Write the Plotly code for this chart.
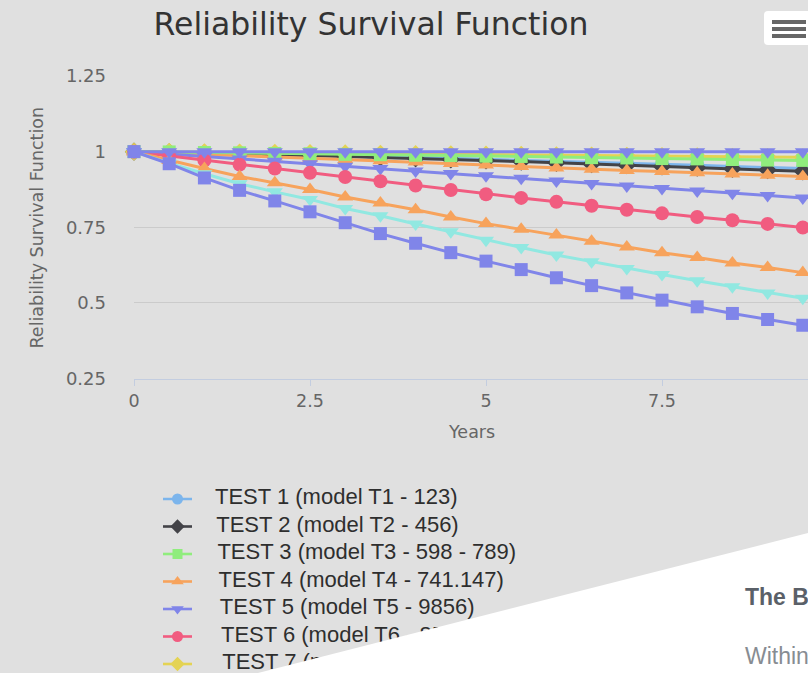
import plotly.graph_objects as go

# ---------------- data ----------------
years = [0, 0.5, 1, 1.5, 2, 2.5, 3, 3.5, 4, 4.5, 5, 5.5, 6, 6.5, 7, 7.5, 8, 8.5, 9, 9.5]

test1 = [1, 0.998, 0.996, 0.994, 0.991, 0.989, 0.986, 0.984, 0.981, 0.978, 0.975, 0.972, 0.969, 0.966, 0.962, 0.958, 0.955, 0.951, 0.947, 0.944]
test2 = [1, 0.998, 0.995, 0.993, 0.990, 0.987, 0.984, 0.981, 0.978, 0.974, 0.971, 0.967, 0.963, 0.959, 0.955, 0.951, 0.947, 0.943, 0.939, 0.935]
test3 = [1, 0.999, 0.997, 0.996, 0.994, 0.993, 0.991, 0.990, 0.988, 0.987, 0.985, 0.984, 0.982, 0.980, 0.979, 0.977, 0.976, 0.974, 0.972, 0.971]
test4 = [1, 0.995, 0.990, 0.986, 0.982, 0.978, 0.974, 0.970, 0.966, 0.961, 0.956, 0.951, 0.946, 0.942, 0.938, 0.934, 0.930, 0.926, 0.922, 0.918]
test5 = [1, 0.992, 0.984, 0.976, 0.968, 0.960, 0.952, 0.944, 0.936, 0.928, 0.920, 0.912, 0.903, 0.895, 0.886, 0.878, 0.870, 0.862, 0.855, 0.847]
test6 = [1, 0.986, 0.971, 0.957, 0.944, 0.930, 0.916, 0.902, 0.888, 0.873, 0.859, 0.847, 0.834, 0.821, 0.808, 0.796, 0.784, 0.773, 0.761, 0.749]
test7 = [1, 0.999, 0.998, 0.997, 0.996, 0.995, 0.994, 0.993, 0.992, 0.991, 0.990, 0.989, 0.988, 0.987, 0.986, 0.985, 0.984, 0.983, 0.982, 0.981]
test8 = [1, 0.971, 0.944, 0.918, 0.897, 0.875, 0.850, 0.830, 0.808, 0.784, 0.762, 0.743, 0.724, 0.704, 0.685, 0.666, 0.650, 0.632, 0.617, 0.600]
test9 = [1, 0.962, 0.927, 0.894, 0.867, 0.842, 0.812, 0.788, 0.761, 0.735, 0.707, 0.683, 0.658, 0.636, 0.614, 0.594, 0.573, 0.553, 0.533, 0.515]
test10 = [1, 0.960, 0.913, 0.872, 0.837, 0.801, 0.765, 0.729, 0.697, 0.666, 0.638, 0.610, 0.583, 0.557, 0.533, 0.509, 0.487, 0.465, 0.445, 0.426]
test11 = [1, 1, 1, 1, 1, 1, 1, 1, 1, 1, 1, 1, 1, 1, 1, 1, 1, 1, 1, 1]

series_names = [
    "TEST 1 (model T1 - 123)",
    "TEST 2 (model T2 - 456)",
    "TEST 3 (model T3 - 598 - 789)",
    "TEST 4 (model T4 - 741.147)",
    "TEST 5 (model T5 - 9856)",
    "TEST 6 (model T6 - 852)",
    "TEST 7 (model T7 - 369)",
    "TEST 8 (model T8 - 147)",
    "TEST 9 (model T9 - 258)",
    "TEST 10 (model T10 - 963)",
    "TEST 11 (model T11 - 741)",
]
series_values = [test1, test2, test3, test4, test5, test6, test7, test8, test9, test10, test11]
series_colors = ["#7cb5ec", "#434348", "#90ed7d", "#f7a35c", "#8085e9", "#f15c80",
                 "#e4d354", "#f7a35c", "#91e8e1", "#8085e9", "#8085e9"]
series_symbols = ["circle", "diamond", "square", "triangle-up", "triangle-down", "circle",
                  "diamond", "triangle-up", "triangle-down", "square", "triangle-down"]
# stacking order of the lines (bottom first)
draw_order = [0, 1, 6, 3, 2, 4, 5, 7, 8, 9, 10]

x_ticks = [0, 2.5, 5, 7.5]
y_ticks = [0.25, 0.5, 0.75, 1, 1.25]

# ---------------- layout helpers (pixel -> paper) ----------------
W, H = 808, 673
def px(x):
    return x / W
def py(y):
    return 1 - y / H

BG = "#e0e0e0"
PLOT_L, PLOT_T, PLOT_B = 134, 76, 378.5
PX_PER_YEAR = 70.4

fig = go.Figure()

sym_size = {"circle": 14, "diamond": 14, "square": 13, "triangle-up": 14, "triangle-down": 14}

for k in draw_order:
    name, vals, col, sym = series_names[k], series_values[k], series_colors[k], series_symbols[k]
    fig.add_trace(go.Scatter(
        x=years, y=vals, name=name, mode="lines+markers",
        line=dict(color=col, width=3),
        marker=dict(symbol=sym, size=sym_size[sym], color=col, line=dict(width=0)),
        cliponaxis=False, showlegend=False, xaxis="x", yaxis="y"))

# ---------------- manual legend (second subplot in pixel units) ----------------
LEG_TOP = 499
LEG_STEP = 27.5
for i, (name, col, sym) in enumerate(zip(series_names, series_colors, series_symbols)):
    ry = LEG_TOP + i * LEG_STEP
    fig.add_trace(go.Scatter(x=[163, 192], y=[ry, ry], mode="lines",
                             line=dict(color=col, width=2.6), showlegend=False,
                             hoverinfo="skip", xaxis="x2", yaxis="y2"))
    fig.add_trace(go.Scatter(x=[177.5], y=[ry], mode="markers",
                             marker=dict(symbol=sym, size=sym_size[sym] - 3, color=col),
                             showlegend=False, hoverinfo="skip", xaxis="x2", yaxis="y2"))
    fig.add_trace(go.Scatter(x=[215 + i * 1.2], y=[ry], mode="text", text=[name],
                             textposition="middle right",
                             textfont=dict(family="Liberation Sans, Arial", size=22, color="#2e2e2e"),
                             showlegend=False, hoverinfo="skip", xaxis="x2", yaxis="y2"))

LEG_DOM = 0.36
fig.update_layout(
    width=W, height=H,
    margin=dict(l=0, r=0, t=0, b=0, pad=0),
    paper_bgcolor=BG, plot_bgcolor=BG,
    title=dict(text="Reliability Survival Function", x=px(371), y=py(24),
               xref="paper", yref="paper", xanchor="center", yanchor="middle",
               font=dict(family="DejaVu Sans", size=31.5, color="#333333")),
    xaxis=dict(domain=[px(PLOT_L), 1], range=[0, (W - PLOT_L) / PX_PER_YEAR],
               tickvals=x_ticks, ticks="outside", ticklen=6, tickcolor="#c3cde0",
               showline=True, linecolor="#c3cde0", linewidth=1,
               showgrid=False, zeroline=False, automargin=False,
               tickfont=dict(family="DejaVu Sans", size=17.5, color="#666666")),
    yaxis=dict(domain=[py(PLOT_B), py(PLOT_T)], range=[0.25, 1.25],
               tickvals=y_ticks, ticks="", showline=False, zeroline=False,
               showgrid=True, gridcolor="#cbcbcb", gridwidth=1, automargin=False,
               ticklabelstandoff=27,
               tickfont=dict(family="DejaVu Sans", size=18, color="#666666")),
    xaxis2=dict(domain=[0, 1], range=[0, W], visible=False, fixedrange=True),
    yaxis2=dict(domain=[0, LEG_DOM], range=[H, H - LEG_DOM * H], visible=False, fixedrange=True),
    hovermode=False,
)

# axis titles
fig.add_annotation(text="Reliability Survival Function", x=px(36), y=py(227.5),
                   xref="paper", yref="paper", textangle=-90, showarrow=False,
                   xanchor="center", yanchor="middle",
                   font=dict(family="DejaVu Sans", size=17.5, color="#666666"))
fig.add_annotation(text="Years", x=px(472), y=py(432), xref="paper", yref="paper",
                   showarrow=False, xanchor="center", yanchor="middle",
                   font=dict(family="DejaVu Sans", size=17.5, color="#666666"))

# white overlay panel (page cut) above the chart
fig.add_shape(type="path", xref="paper", yref="paper", layer="above",
              path=f"M {px(258)},{py(673)} L {px(808)},{py(533)} L {px(808)},{py(673)} Z",
              fillcolor="#ffffff", line=dict(width=0))
fig.add_annotation(text="<b>The B</b>", x=px(743), y=py(597), xref="paper", yref="paper",
                   showarrow=False, xanchor="left", yanchor="middle",
                   font=dict(family="Liberation Sans, Arial", size=23, color="#5a6068"))
fig.add_annotation(text="Within", x=px(743), y=py(656), xref="paper", yref="paper",
                   showarrow=False, xanchor="left", yanchor="middle",
                   font=dict(family="Liberation Sans, Arial", size=23, color="#878c92"))

# context menu button (hamburger)
bx0, bx1, by0, by1, r = 764, 814, 11, 45, 4
fig.add_shape(type="path", xref="paper", yref="paper", layer="above",
              path=(f"M {px(bx0 + r)},{py(by0)} L {px(bx1)},{py(by0)} L {px(bx1)},{py(by1)} "
                    f"L {px(bx0 + r)},{py(by1)} Q {px(bx0)},{py(by1)} {px(bx0)},{py(by1 - r)} "
                    f"L {px(bx0)},{py(by0 + r)} Q {px(bx0)},{py(by0)} {px(bx0 + r)},{py(by0)} Z"),
              fillcolor="#ffffff", line=dict(width=0))
for by in [22, 29, 36]:
    fig.add_shape(type="line", xref="paper", yref="paper", layer="above",
                  x0=px(772), x1=px(806), y0=py(by), y1=py(by),
                  line=dict(color="#666666", width=4))

fig.write_html("out.html", config={"displayModeBar": False},
               post_script="document.body.style.margin='0';document.body.style.overflow='hidden';")
